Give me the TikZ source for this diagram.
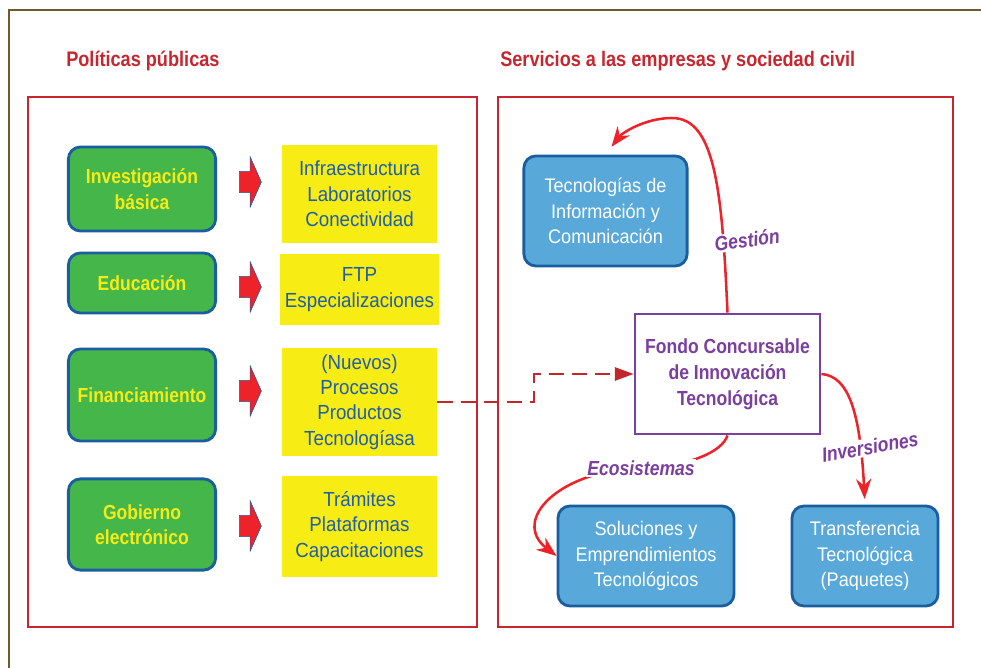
\documentclass[tikz,border=0pt]{standalone}
\usepackage{fontspec}
\setmainfont{Liberation Sans}[FakeStretch=0.92]
\newfontfamily\condbf{Liberation Sans}[FakeStretch=0.86]
\usetikzlibrary{arrows.meta, shapes.arrows}
\usepackage{xcolor}

\definecolor{redline}{HTML}{C8262F}
\definecolor{framebrown}{HTML}{6E5A2C}
\definecolor{grn}{HTML}{45B649}
\definecolor{bordblue}{HTML}{1A5EA0}
\definecolor{yel}{HTML}{F7EC13}
\definecolor{txtblue}{HTML}{1F5EA8}
\definecolor{txtyel}{HTML}{F5EB17}
\definecolor{ltblue}{HTML}{58A9DA}
\definecolor{purp}{HTML}{7B3F9E}
\definecolor{arrred}{HTML}{EE2229}
\definecolor{darkred}{HTML}{C1272D}

\begin{document}
\begin{tikzpicture}[
    x=0.025cm, y=-0.025cm,
    greenbox/.style={rectangle, draw=bordblue, line width=2pt, rounded corners=0.3cm,
                fill=grn, text=txtyel, minimum width=3.68cm, align=center,
                font=\condbf\bfseries\fontsize{14.5}{18}\selectfont},
    yelbox/.style={rectangle, fill=yel, text=txtblue, minimum width=3.875cm, align=center,
                font=\fontsize{14.5}{18}\selectfont},
    bluebox/.style={rectangle, draw=bordblue, line width=2pt, rounded corners=0.3cm,
                fill=ltblue, text=white, align=center, font=\fontsize{14}{18}\selectfont},
    blockarr/.style={single arrow, draw=bordblue, line width=0.4pt, fill=arrred,
                inner xsep=0pt, inner ysep=0.26cm, minimum height=0.55cm,
                single arrow tip angle=132, single arrow head extend=0.36cm,
                single arrow head indent=0pt},
    header/.style={anchor=base west, inner sep=0pt, text=redline,
                font=\condbf\bfseries\fontsize{15}{18}\selectfont},
    arcarr/.style={-{Stealth[length=0.5cm, width=0.38cm]}, line width=1.8pt, draw=arrred},
    arclbl/.style={fill=white, inner sep=1pt, text=purp,
                font=\condbf\bfseries\itshape\fontsize{14.5}{18}\selectfont}
]
\useasboundingbox (0,0) rectangle (981,668);

% Outer frame
\draw[framebrown, line width=1.5pt] (9,668) -- (9,10) -- (981,10);

% Headers
\node[header] (hpol) at (66,67)  {Políticas públicas};
\node[header] (hserv) at (500,67) {Servicios a las empresas y sociedad civil};

% Red frames
\draw[redline, line width=2pt] (28,97) rectangle (477,627);
\draw[redline, line width=2pt] (498,97) rectangle (953,627);

% Left column: policies
\node[greenbox, minimum height=2.1cm]  (inv) at (142,189)   {Investigación\\básica};
\node[greenbox, minimum height=1.5cm]  (edu) at (142,283)   {Educación};
\node[greenbox, minimum height=2.3cm]  (fin) at (142,395)   {Financiamiento};
\node[greenbox, minimum height=2.28cm] (gob) at (142,524.5) {Gobierno\\electrónico};

\node[blockarr] (a1) at (248,182) {};
\node[blockarr] (a2) at (248,287) {};
\node[blockarr] (a3) at (248,391) {};
\node[blockarr] (a4) at (248,526) {};

\node[yelbox, minimum height=2.45cm] (infra) at (359.5,194)   {Infraestructura\\Laboratorios\\Conectividad};
\node[yelbox, minimum height=1.78cm] (ftp)   at (359.5,289.5) {FTP\\Especializaciones};
\node[yelbox, minimum height=2.7cm]  (proc)  at (359.5,402)   {(Nuevos)\\Procesos\\Productos\\Tecnologíasa};
\node[yelbox, minimum height=2.53cm] (tram)  at (359.5,526.5) {Trámites\\Plataformas\\Capacitaciones};

% Right column: services
\node[bluebox, minimum width=4.08cm, minimum height=2.75cm] (tic)   at (605.5,211) {Tecnologías de\\Información y\\Comunicación};
\node[bluebox, minimum width=4.4cm, minimum height=2.5cm]   (sol)   at (646,556)   {Soluciones y\\Emprendimientos\\Tecnológicos};
\node[bluebox, minimum width=3.65cm, minimum height=2.5cm]  (trans) at (865,556)   {Transferencia\\Tecnológica\\(Paquetes)};

\node[rectangle, draw=purp, line width=1.5pt, fill=white, minimum width=4.64cm, minimum height=3.02cm,
      align=center, text=purp, font=\condbf\bfseries\fontsize{14.5}{18.5}\selectfont]
      (fondo) at (727.5,374) {Fondo Concursable\\de Innovación\\Tecnológica};

% Dashed link
\draw[darkred, line width=1.6pt, dash pattern=on 0.38cm off 0.2cm,
      -{Triangle[length=0.47cm, width=0.33cm]}]
      (proc.east) -- ++(97,0) |- (fondo.west);

% Curved arrows
\draw[arcarr, shorten >=7pt] (fondo.north) .. controls (722,190) and (715,118) .. (672,118)
      .. controls (645,118) and (622,133) .. (tic.north);
\draw[arcarr] (fondo.south) .. controls (722,452) and (690,466) .. (641,468)
      .. controls (560,470) and (510,520) .. (sol.west);
\draw[arcarr, shorten >=4pt] (fondo.east) .. controls (848,376) and (860,410) .. (trans.north);

\node[arclbl, rotate=8]  (lgest) at (747,240) {Gestión};
\node[arclbl]            (leco)  at (641,468) {Ecosistemas};
\node[arclbl, rotate=10] (linv)  at (870,447) {Inversiones};
\end{tikzpicture}
\end{document}
